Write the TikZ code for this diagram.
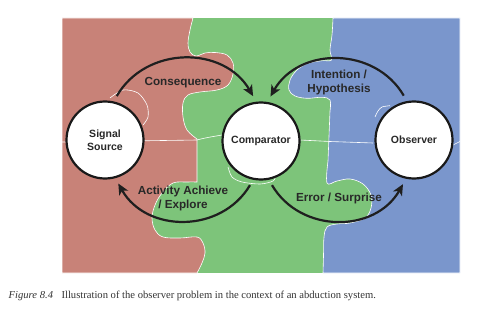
\documentclass[tikz,border=0pt]{standalone}
\usepackage{fontspec}
\setmainfont{Liberation Serif}
\setsansfont{Liberation Sans}
\usetikzlibrary{positioning, arrows.meta}
\usepackage{xcolor}
\definecolor{redpc}{RGB}{200,130,120}
\definecolor{greenpc}{RGB}{125,196,122}
\definecolor{bluepc}{RGB}{122,150,204}
\definecolor{inkgray}{RGB}{40,40,40}

\begin{document}
\begin{tikzpicture}[x=1pt, y=1pt,
        unit/.style={circle, draw=black!90, line width=2.2pt, fill=white, minimum size=77pt,
            outer sep=7pt, align=center, text=inkgray,
            font=\sffamily\bfseries\fontsize{10.5}{13.4}\selectfont},
        flow/.style={line width=2.2pt, draw=black!88,
            -{Stealth[length=11pt, width=10pt, inset=3pt]}, bend angle=60, looseness=1.1},
        flowlabel/.style={align=center, text=inkgray,
            font=\sffamily\bfseries\fontsize{11.7}{14.5}\selectfont},
        seam/.style={draw=white, line width=0.6pt}]
    \useasboundingbox (0,0) rectangle (500,311);

    % Puzzle pieces
    \fill[greenpc] (62,38) rectangle (460,293);
    \filldraw[fill=redpc, seam] (62,293) -- (193,293)
        -- plot[smooth, tension=0.6] coordinates {(193,293) (190,281) (188,268) (190,259) (196,255)
            (205,258) (215,258.5) (227,256) (233,248) (233,237) (228,226) (217,221) (200,219)
            (188,216) (183,208) (183,194) (187,181) (197,172)}
        -- (197,129)
        -- plot[smooth, tension=0.6] coordinates {(197,129) (187,129) (173,128) (162,118) (155,106)
            (152,93) (155,81) (163,74) (180,73) (197,74) (203,68) (205,58) (202,48) (197,38)}
        -- (62,38) -- cycle;
    \filldraw[fill=bluepc, seam] (460,293) -- (460,38) -- (323,38)
        -- plot[smooth, tension=0.6] coordinates {(323,38) (323.5,55) (324,74) (327,84) (337,87)
            (350,88) (365,93) (371,103) (371,116) (363,127) (350,132) (337,130) (327,128) (328,150)}
        -- (330,200)
        -- plot[smooth, tension=0.6] coordinates {(330,200) (330,211) (322,213.7) (307,212.7)
            (295,215) (289,221) (290,231) (297,241) (308,247.7) (322,250.3) (331.5,251) (330,261)
            (332,276) (333,293)}
        -- cycle;

    % Seams between pieces
    \draw[seam] (62,169) -- (197,171) to[out=15, in=190] (222,176);
    \draw[seam] (300,171) -- (330,169.5) -- (373,168);
    \draw[seam] (453,166) -- (460,169.5);
    \draw[seam] plot[smooth] coordinates {(110,213) (123,221) (138,218) (147,206) (148,194) (143,186)};
    \draw[seam] plot[smooth] coordinates {(228,144) (232,134) (242,129) (260,127) (273,130) (276,136)};
    \draw[seam] plot[smooth] coordinates {(375,194) (378,200) (382,204) (390,205.3)};

    % Nodes
    \node[unit] (ss) at (105,171) {Signal\\Source};
    \node[unit] (cmp) at (261,170) {Comparator};
    \node[unit] (obs) at (414,171) {Observer};

    % Edges
    \draw[flow] (ss.75) to[bend left] (cmp.100);
    \draw[flow] (obs.103) to[bend right] (cmp.78);
    \draw[flow] (cmp.256) to[bend left] (ss.287);
    \draw[flow] (cmp.284) to[bend right] (obs.256);

    % Edge labels
    \node[flowlabel] (cons) at (183,228) {Consequence};
    \node[flowlabel] (intent) at (339,228.5) {Intention /\\Hypothesis};
    \node[flowlabel] (act) at (183,112.7) {Activity Achieve\\/ Explore};
    \node[flowlabel] (err) at (339,112.7) {Error / Surprise};

    % Caption
    \node[anchor=west, inner sep=0pt, text=black!80, font=\fontsize{10.6}{12}\selectfont] (caption)
        at (8.5,15) {\textit{Figure 8.4}\hspace{0.8em}Illustration of the observer problem in the
        context of an abduction system.};
\end{tikzpicture}
\end{document}
